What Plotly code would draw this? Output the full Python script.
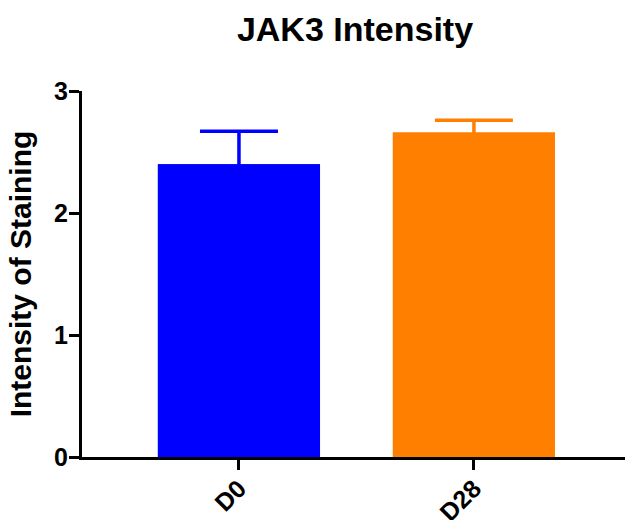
import plotly.graph_objects as go

categories = ["D0", "D28"]
means = [2.40, 2.66]
errors_up = [0.27, 0.10]
bar_colors = ["#0000FF", "#FF8000"]
y_ticks = [0, 1, 2, 3]

fig = go.Figure()
# error bars first (lower half hidden beneath bars drawn afterwards)
for cat, m, e, c in zip(categories, means, errors_up, bar_colors):
    fig.add_trace(go.Bar(
        x=[cat], y=[m], width=0.69, marker=dict(color=c, line=dict(width=0)),
        error_y=dict(type="data", array=[e], symmetric=True,
                     color=c, thickness=3.5, width=39),
        showlegend=False, hoverinfo="skip",
    ))
for cat, m, c in zip(categories, means, bar_colors):
    fig.add_trace(go.Bar(
        x=[cat], y=[m], width=0.69, marker=dict(color=c, line=dict(width=0)),
        showlegend=False,
    ))

font_family = "Liberation Sans, Arial, sans-serif"
fig.update_layout(
    width=625, height=520,
    barmode="overlay",
    margin=dict(l=82, r=0, t=91, b=63, autoexpand=False),
    paper_bgcolor="white", plot_bgcolor="white",
    font=dict(family=font_family, color="black"),
    title=dict(text="<b>JAK3 Intensity</b>", x=355/625, xanchor="center",
               xref="container", yref="container",
               y=1 - 29/520, yanchor="middle", font=dict(size=34, family=font_family),
               automargin=False),
    xaxis=dict(
        range=[-0.668, 1.643], showline=True, linecolor="black", linewidth=3,
        ticks="outside", ticklen=10, tickwidth=3, tickcolor="black",
        tickangle=-45, tickfont=dict(size=25, family=font_family),
        tickvals=categories, ticktext=["<b>%s</b>" % c for c in categories],
        ticklabelstandoff=-6,
        showgrid=False, zeroline=False, automargin=False,
    ),
    yaxis=dict(
        range=[0, 3], showline=True, linecolor="black", linewidth=3,
        ticks="outside", ticklen=10, tickwidth=3, tickcolor="black",
        tickvals=y_ticks, ticktext=["<b>%d</b>" % v for v in y_ticks],
        tickfont=dict(size=25, family=font_family),
        ticklabelstandoff=-4,
        showgrid=False, zeroline=False, automargin=False,
        title=dict(text="<b>Intensity of Staining</b>", font=dict(size=30, family=font_family), standoff=14),
    ),
)

fig.write_html("out.html", config={"displayModeBar": False},
               post_script="document.body.style.margin='0';document.body.style.overflow='hidden';")
